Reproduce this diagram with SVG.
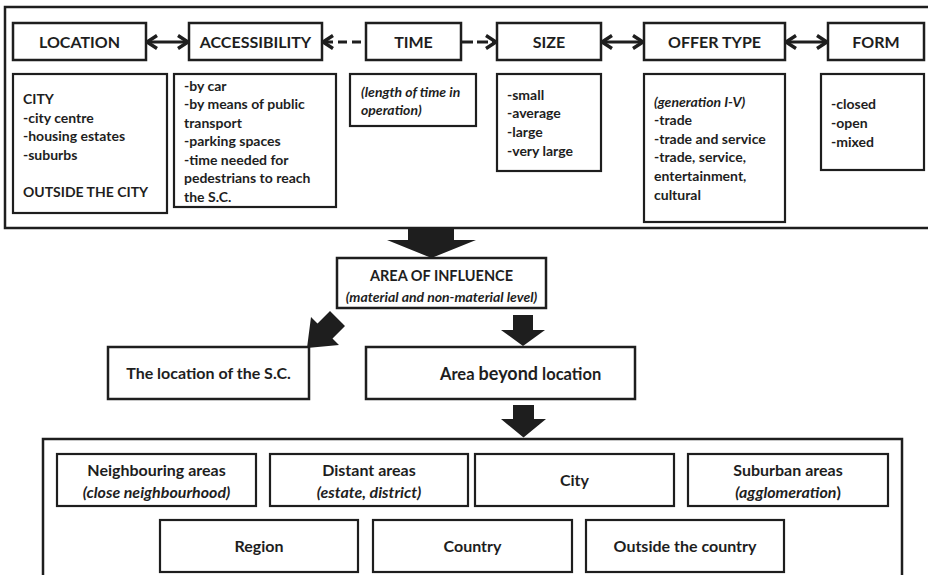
<svg xmlns="http://www.w3.org/2000/svg" width="928" height="575" viewBox="0 0 928 575">
<defs>
<style>
.frame{fill:none;stroke:#1e1e1e;stroke-width:2.5}
.box{fill:#fff;stroke:#1e1e1e;stroke-width:2.5}
.sbox{fill:#fff;stroke:#1e1e1e;stroke-width:2.2}
text{font-family:Lato,"Liberation Sans",sans-serif;fill:#1e1e1e;font-weight:bold}
.t{font-size:16px;text-anchor:middle}
.b{font-size:14px}
.c{font-size:16px;text-anchor:middle}
.i{font-style:italic}
.link{fill:none;stroke:#1e1e1e;stroke-width:3.2}
.dash{stroke-dasharray:9 5}
.blk{fill:#1e1e1e;stroke:none}
</style>
<marker id="chev" viewBox="0 0 14 16" refX="12" refY="8" markerWidth="14" markerHeight="16" markerUnits="userSpaceOnUse" orient="auto-start-reverse">
<path d="M2,1.5 L12,8 L2,14.5" fill="none" stroke="#1e1e1e" stroke-width="3.4"/>
</marker>
</defs>
<rect width="928" height="575" fill="#fff"/>

<g id="factors-frame"><rect class="frame" x="5" y="7" width="940" height="221"/></g>

<g id="location">
<rect class="box" x="13" y="23" width="133" height="37"/>
<text class="t" x="79.5" y="48">LOCATION</text>
</g>
<g id="accessibility">
<rect class="box" x="189" y="23" width="133" height="37"/>
<text class="t" x="255.5" y="48">ACCESSIBILITY</text>
</g>
<g id="time">
<rect class="box" x="366" y="23" width="95" height="37"/>
<text class="t" x="413.5" y="48">TIME</text>
</g>
<g id="size">
<rect class="box" x="497" y="23" width="104" height="37"/>
<text class="t" x="549" y="48">SIZE</text>
</g>
<g id="offer-type">
<rect class="box" x="644" y="23" width="141" height="37"/>
<text class="t" x="714.5" y="48">OFFER TYPE</text>
</g>
<g id="form">
<rect class="box" x="828" y="23" width="96" height="37"/>
<text class="t" x="876" y="48">FORM</text>
</g>

<g id="location-detail">
<rect class="sbox" x="13" y="74" width="154" height="139"/>
<text class="b" x="23" y="104">CITY</text>
<text class="b" x="23" y="122.5">-city centre</text>
<text class="b" x="23" y="141">-housing estates</text>
<text class="b" x="23" y="159.5">-suburbs</text>
<text class="b" x="23" y="196.5">OUTSIDE THE CITY</text>
</g>
<g id="accessibility-detail">
<rect class="sbox" x="174" y="74" width="162" height="133"/>
<text class="b" x="184" y="91">-by car</text>
<text class="b" x="184" y="109.3">-by means of public</text>
<text class="b" x="184" y="127.7">transport</text>
<text class="b" x="184" y="146.3">-parking spaces</text>
<text class="b" x="184" y="165">-time needed for</text>
<text class="b" x="184" y="183.3">pedestrians to reach</text>
<text class="b" x="184" y="201.7">the S.C.</text>
</g>
<g id="time-detail">
<rect class="sbox" x="350" y="74" width="126" height="52"/>
<text class="b i" x="361" y="97">(length of time in</text>
<text class="b i" x="361" y="115">operation)</text>
</g>
<g id="size-detail">
<rect class="sbox" x="497" y="74" width="104" height="97"/>
<text class="b" x="507" y="100">-small</text>
<text class="b" x="507" y="118.3">-average</text>
<text class="b" x="507" y="137.3">-large</text>
<text class="b" x="507" y="155.7">-very large</text>
</g>
<g id="offer-detail">
<rect class="sbox" x="644" y="74" width="141" height="148"/>
<text class="b i" x="654" y="107.3">(generation I-V)</text>
<text class="b" x="654" y="125">-trade</text>
<text class="b" x="654" y="144">-trade and service</text>
<text class="b" x="654" y="162.3">-trade, service,</text>
<text class="b" x="654" y="181">entertainment,</text>
<text class="b" x="654" y="200">cultural</text>
</g>
<g id="form-detail">
<rect class="sbox" x="821" y="74" width="103" height="96"/>
<text class="b" x="831" y="109.3">-closed</text>
<text class="b" x="831" y="127.7">-open</text>
<text class="b" x="831" y="146.7">-mixed</text>
</g>

<g id="area-of-influence">
<rect class="box" x="337" y="258" width="209" height="50"/>
<text class="c" x="441.5" y="280.5" style="font-size:14.5px">AREA OF INFLUENCE</text>
<text class="c i" x="441.5" y="301.5" style="font-size:14px">(material and non-material level)</text>
</g>
<g id="location-of-sc">
<rect class="box" x="108" y="347" width="201" height="52"/>
<text class="c" x="208.5" y="379">The location of the S.C.</text>
</g>
<g id="area-beyond">
<rect class="box" x="366" y="347" width="269" height="52"/>
<text x="440" y="379.5" style="font-size:16.5px">Area <tspan style="font-size:18px">beyond</tspan> location</text>
</g>

<g id="areas-frame"><rect class="frame" x="43" y="439" width="859" height="150"/></g>
<g id="neighbouring">
<rect class="sbox" x="57" y="454" width="199" height="52"/>
<text class="c" x="156.5" y="475.5">Neighbouring areas</text>
<text class="c i" x="156.5" y="498">(close neighbourhood)</text>
</g>
<g id="distant">
<rect class="sbox" x="270" y="454" width="198" height="52"/>
<text class="c" x="369" y="475.5">Distant areas</text>
<text class="c i" x="369" y="498">(estate, district)</text>
</g>
<g id="city">
<rect class="sbox" x="475" y="454" width="199" height="52"/>
<text class="c" x="574.5" y="486">City</text>
</g>
<g id="suburban">
<rect class="sbox" x="688" y="454" width="200" height="52"/>
<text class="c" x="788" y="475.5">Suburban areas</text>
<text class="c" x="788" y="498"><tspan class="i">(agglomeration</tspan>)</text>
</g>
<g id="region">
<rect class="sbox" x="160" y="520" width="198" height="52"/>
<text class="c" x="259" y="551.5">Region</text>
</g>
<g id="country">
<rect class="sbox" x="373" y="520" width="199" height="52"/>
<text class="c" x="472.5" y="551.5">Country</text>
</g>
<g id="outside-country">
<rect class="sbox" x="586" y="520" width="198" height="52"/>
<text class="c" x="685" y="551.5">Outside the country</text>
</g>

<g id="connectors">
<line class="link" x1="147" y1="42" x2="188" y2="42" marker-start="url(#chev)" marker-end="url(#chev)"/>
<line class="link dash" x1="361" y1="42" x2="323" y2="42" marker-end="url(#chev)"/>
<line class="link dash" x1="462" y1="42" x2="496" y2="42" marker-end="url(#chev)" style="stroke-dasharray:11 4"/>
<line class="link" x1="602" y1="42" x2="643" y2="42" marker-start="url(#chev)" marker-end="url(#chev)"/>
<line class="link" x1="786" y1="42" x2="827" y2="42" marker-start="url(#chev)" marker-end="url(#chev)"/>
<polygon class="blk" points="408,229 454,229 454,240 476,240 431.5,258 387,240 408,240"/>
<polygon class="blk" points="513,315 533,315 533,330 545,330 523,346 501,330 513,330"/>
<polygon class="blk" points="307,348 311,317 317.5,323.5 330,311 345,326 332.5,338.5 339,345"/>
<polygon class="blk" points="513,405 534,405 534,419 546,419 523.5,437.5 501,419 513,419"/>
</g>
</svg>
